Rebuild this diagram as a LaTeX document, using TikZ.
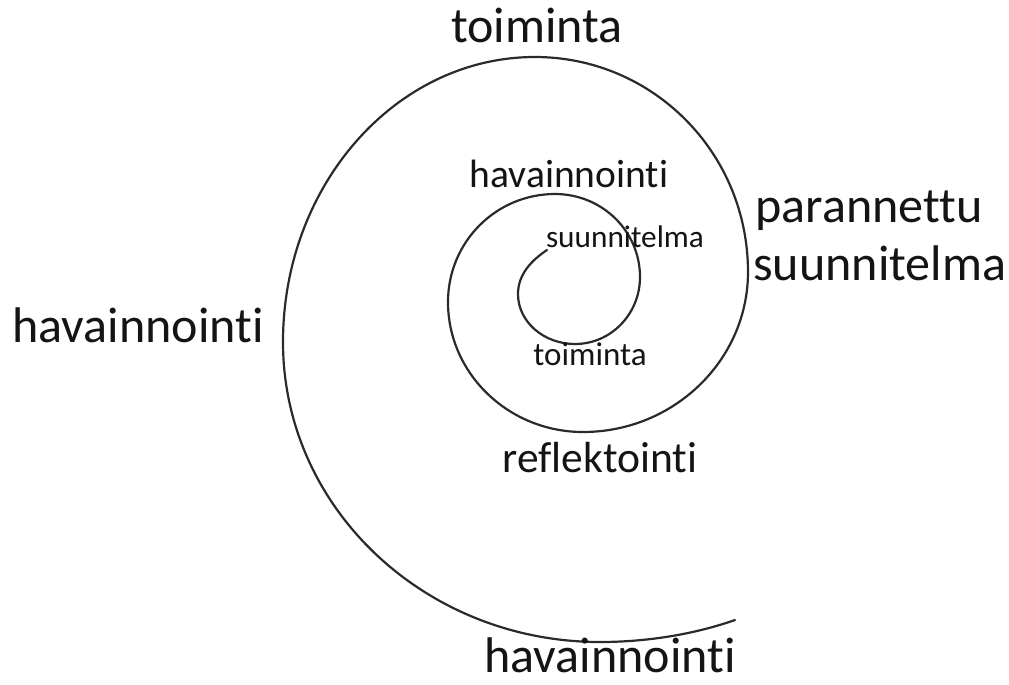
\documentclass[tikz,border=0pt]{standalone}
\usepackage{fontspec}
\setmainfont{Carlito}[Ligatures=NoCommon]
\usepackage{tikz}
\usetikzlibrary{positioning}
\definecolor{spiralgray}{HTML}{2A2A2A}
\definecolor{labeltext}{HTML}{141414}

\begin{document}
\begin{tikzpicture}[
  x=0.02cm, y=-0.02cm,
  spiral/.style={draw=spiralgray, line width=1.25pt, line cap=round},
  biglabel/.style={text=labeltext, anchor=base, inner sep=0pt, font=\fontsize{28.5}{32}\selectfont},
  midlabel/.style={text=labeltext, anchor=base, inner sep=0pt, font=\fontsize{22.5}{26}\selectfont},
  smalllabel/.style={text=labeltext, anchor=base, inner sep=0pt, font=\fontsize{17.8}{21}\selectfont}
]
  \useasboundingbox (0,0) rectangle (1009,684);

  \begin{scope}[yshift=0.16cm]
  % the spiral, one quarter turn at a time, from the centre outwards
  \draw[spiral] (547,258)
    .. controls (532,268) and (518,282) .. (518,302)
    .. controls (518,330) and (544,352) .. (575,352)
    .. controls (611,352) and (640,322) .. (640,285)
    .. controls (640,239) and (602,202) .. (555,202)
    .. controls (496,202) and (448,250) .. (448,310)
    .. controls (448,382) and (509,440) .. (583,440)
    .. controls (674,440) and (748,368) .. (748,280)
    .. controls (748,161) and (653,65) .. (535,65)
    .. controls (396,65) and (283,193) .. (283,350)
    .. controls (283,516) and (425,650) .. (600,650)
    .. controls (648,650) and (695,642) .. (735,628);

  % outer turn
  \node[biglabel] (outerTop)    at (537,50)  {toiminta};
  \node[biglabel, anchor=base west] (outerRight) at (755,230) {parannettu};
  \node[biglabel, anchor=base west] (outerRight2) at (753,288) {suunnitelma};
  \node[biglabel, anchor=base west] (outerLeft) at (12,350) {havainnointi};
  \node[biglabel] (outerBottom) at (610,680) {havainnointi};

  % middle turn
  \node[midlabel] (midTop) at (569,195) {havainnointi};
  \node[biglabel, font=\fontsize{24.8}{28}\selectfont] (midBottom) at (600,480) {reflektointi};

  % inner turn
  \node[smalllabel] (innerTop)    at (625,255) {suunnitelma};
  \node[smalllabel, font=\fontsize{18.8}{22}\selectfont] (innerBottom) at (590,373) {toiminta};
  \end{scope}
\end{tikzpicture}
\end{document}
